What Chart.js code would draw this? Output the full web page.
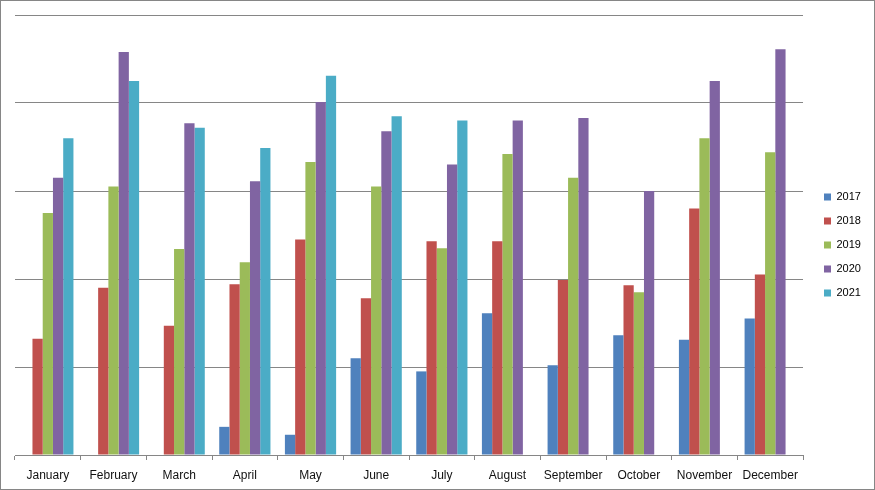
<!DOCTYPE html>
<html>
<head>
<meta charset="utf-8">
<script src="https://cdn.jsdelivr.net/npm/chart.js@4/dist/chart.umd.min.js"></script>
<style>
  html, body { margin: 0; padding: 0; background: #ffffff; }
  #wrap { position: relative; width: 875px; height: 490px; }
</style>
</head>
<body>
<div id="wrap"><canvas id="c" width="875" height="490"></canvas></div>
<script>
const months = ["January","February","March","April","May","June","July","August","September","October","November","December"];
const seriesNames = ["2017","2018","2019","2020","2021"];
const values2017 = [null, null, null, 3.2, 2.3, 11.0, 9.5, 16.1, 10.2, 13.6, 13.1, 15.5];
const values2018 = [13.2, 19.0, 14.7, 19.4, 24.5, 17.8, 24.3, 24.3, 19.9, 19.3, 28.0, 20.5];
const values2019 = [27.5, 30.5, 23.4, 21.9, 33.3, 30.5, 23.5, 34.2, 31.5, 18.5, 36.0, 34.4];
const values2020 = [31.5, 45.8, 37.7, 31.1, 40.1, 36.8, 33.0, 38.0, 38.3, 30.0, 42.5, 46.1];
const values2021 = [36.0, 42.5, 37.2, 34.9, 43.1, 38.5, 38.0, null, null, null, null, null];
const colors = ["#4F81BD","#C0504D","#9BBB59","#8064A2","#4BACC6"];
const yTicks = { min: 0, max: 50, step: 10 };

const allValues = [values2017, values2018, values2019, values2020, values2021];
const GRID = "#868686";

const borderPlugin = {
  id: "outerBorder",
  beforeDraw(chart) {
    const ctx = chart.ctx;
    ctx.save();
    ctx.fillStyle = "#ffffff";
    ctx.fillRect(0, 0, chart.width, chart.height);
    ctx.strokeStyle = GRID;
    ctx.lineWidth = 1;
    ctx.strokeRect(0.5, 0.5, chart.width - 1, chart.height - 1);
    ctx.restore();
  }
};

const legendShift = {
  id: "legendShift",
  afterLayout(chart) {
    const L = chart.legend;
    if (!L) return;
    const dx = 811 - L.left;
    L.left += dx; L.right += dx;
    const dy = (490 - (L.top + L.bottom)) / 2;
    L.top += dy; L.bottom += dy;
  }
};

new Chart(document.getElementById("c"), {
  type: "bar",
  data: {
    labels: months,
    datasets: seriesNames.map((name, i) => ({
      label: name,
      data: allValues[i],
      backgroundColor: colors[i],
      borderWidth: 0,
      categoryPercentage: 0.78,
      barPercentage: 1.0
    }))
  },
  options: {
    responsive: false,
    animation: false,
    devicePixelRatio: 1,
    layout: { padding: { top: 15, left: 15, right: 12, bottom: 0 } },
    plugins: {
      tooltip: { enabled: false },
      legend: {
        position: "right",
        align: "center",
        labels: {
          boxWidth: 7,
          boxHeight: 7,
          padding: 13,
          color: "#000000",
          font: { family: "Liberation Sans", size: 11 }
        }
      }
    },
    scales: {
      x: {
        afterFit(scale) { scale.height = 35; },
        grid: {
          offset: true,
          drawOnChartArea: false,
          drawTicks: true,
          tickLength: 5,
          color: GRID,
          lineWidth: 1
        },
        border: { display: true, color: GRID, width: 1 },
        ticks: {
          color: "#111111",
          padding: 8,
          maxRotation: 0,
          autoSkip: false,
          font: { family: "Liberation Sans", size: 12 }
        }
      },
      y: {
        min: yTicks.min,
        max: yTicks.max,
        grid: { color: GRID, lineWidth: 1, drawTicks: false },
        border: { display: false },
        ticks: { display: false, stepSize: yTicks.step }
      }
    }
  },
  plugins: [borderPlugin, legendShift]
});
</script>
</body>
</html>
